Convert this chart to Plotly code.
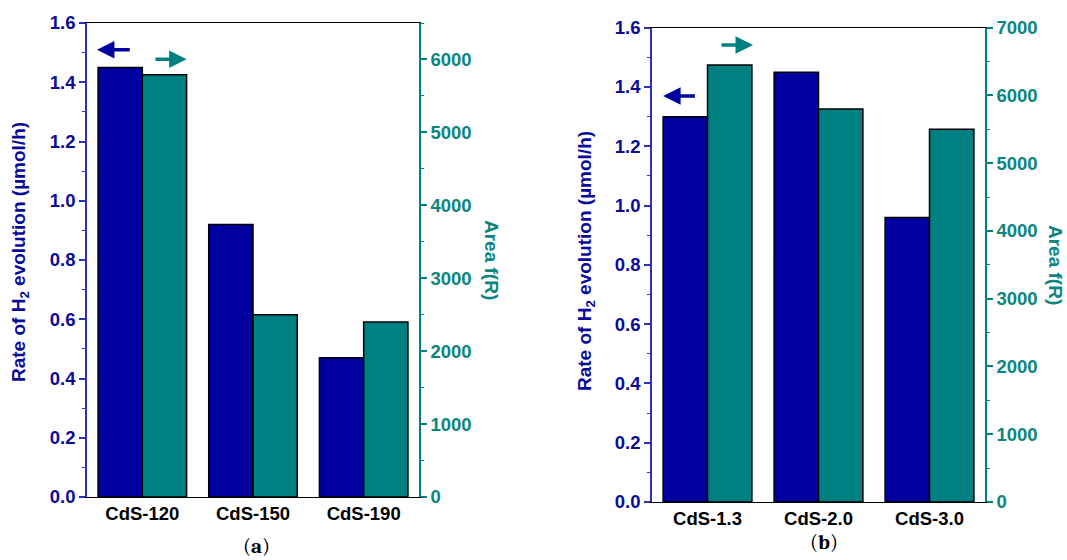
import plotly.graph_objects as go

# ---- data ----
cats_a = ["CdS-120", "CdS-150", "CdS-190"]
rate_a = [1.45, 0.92, 0.47]
area_a = [5790, 2500, 2400]

cats_b = ["CdS-1.3", "CdS-2.0", "CdS-3.0"]
rate_b = [1.30, 1.45, 0.96]
area_b = [6450, 5800, 5500]

BLUE = "#0000A0"
TEAL = "#008080"
BLUE_TXT = "#0a0a9a"
TEAL_TXT = "#0b8580"
BLUE_AX = "#3030b8"
W, H = 1067, 560

fig = go.Figure()

def px2x(p):
    return p / W

def px2y(p):
    return 1 - p / H

# domains (pixels)
xa = (87, 419)
xb = (652, 985)
ya = (23, 497)
yb = (27.7, 502)

FONT = "Arial, Liberation Sans, sans-serif"
FS = 18.5

bar_line = dict(color="black", width=1.5)
fig.add_trace(go.Bar(x=cats_a, y=rate_a, xaxis="x", yaxis="y", marker=dict(color=BLUE, line=bar_line),
                     width=0.4, offset=-0.4, showlegend=False))
fig.add_trace(go.Bar(x=cats_a, y=area_a, xaxis="x", yaxis="y2", marker=dict(color=TEAL, line=bar_line),
                     width=0.4, offset=0.0, showlegend=False))
fig.add_trace(go.Bar(x=cats_b, y=rate_b, xaxis="x2", yaxis="y3", marker=dict(color=BLUE, line=bar_line),
                     width=0.4, offset=-0.4, showlegend=False))
fig.add_trace(go.Bar(x=cats_b, y=area_b, xaxis="x2", yaxis="y4", marker=dict(color=TEAL, line=bar_line),
                     width=0.4, offset=0.0, showlegend=False))

tick_font_b = dict(family=FONT, size=FS, color=BLUE_TXT)
tick_font_t = dict(family=FONT, size=FS, color=TEAL_TXT)
cat_font = dict(family=FONT, size=FS, color="black")

def xaxis_cfg(dom, anchor):
    return dict(domain=[px2x(dom[0]), px2x(dom[1])], anchor=anchor, range=[-0.5, 2.5],
                showline=True, linecolor="black", linewidth=1.2, mirror=True,
                ticks="", tickfont=cat_font, showgrid=False, zeroline=False, automargin=False,
                tickprefix="<b>", ticksuffix="</b>")

def yleft_cfg(dom, anchor, rng):
    return dict(domain=[px2y(dom[1]), px2y(dom[0])], anchor=anchor, range=rng,
                showline=True, linecolor=BLUE_AX, linewidth=1.5, ticks="outside",
                ticklen=6, tickwidth=1.5, tickcolor=BLUE_AX, dtick=0.2, tickformat=".1f",
                minor=dict(dtick=0.1, ticklen=3, tickwidth=1.2, tickcolor=BLUE_AX, ticks="outside"),
                tickfont=tick_font_b, showgrid=False, zeroline=False, automargin=False,
                tickprefix="<b>", ticksuffix="</b>")

def yright_cfg(dom, anchor, overlay, rng):
    return dict(domain=[px2y(dom[1]), px2y(dom[0])], anchor=anchor, overlaying=overlay, side="right",
                range=rng, showline=True, linecolor=TEAL, linewidth=1.5, ticks="outside",
                ticklen=6, tickwidth=1.5, tickcolor=TEAL, dtick=1000,
                minor=dict(dtick=500, ticklen=3, tickwidth=1.2, tickcolor=TEAL, ticks="outside"),
                tickfont=tick_font_t, showgrid=False, zeroline=False, automargin=False,
                tickprefix="<b>", ticksuffix="</b>")

fig.update_layout(
    width=W, height=H,
    margin=dict(l=0, r=0, t=0, b=0, autoexpand=False),
    paper_bgcolor="white", plot_bgcolor="white",
    xaxis=xaxis_cfg(xa, "y"),
    yaxis=yleft_cfg(ya, "x", [0, 1.6]),
    yaxis2=yright_cfg(ya, "x", "y", [0, 6500]),
    xaxis2=xaxis_cfg(xb, "y3"),
    yaxis3=yleft_cfg(yb, "x2", [0, 1.6]),
    yaxis4=yright_cfg(yb, "x2", "y3", [0, 7000]),
)

title_font_b = dict(family=FONT, size=19, color=BLUE_TXT)
title_font_t = dict(family=FONT, size=19, color=TEAL_TXT)
rate_title = "<b>Rate of H<sub>2</sub> evolution (µmol/h)</b>"
area_title = "<b>Area f(R)</b>"

ann = []
ann.append(dict(text=rate_title, x=px2x(20), y=px2y(252), xref="paper", yref="paper",
                textangle=-90, showarrow=False, font=title_font_b, xanchor="center", yanchor="middle"))
ann.append(dict(text=rate_title, x=px2x(586), y=px2y(261), xref="paper", yref="paper",
                textangle=-90, showarrow=False, font=title_font_b, xanchor="center", yanchor="middle"))
ann.append(dict(text=area_title, x=px2x(492), y=px2y(260), xref="paper", yref="paper",
                textangle=90, showarrow=False, font=title_font_t, xanchor="center", yanchor="middle"))
ann.append(dict(text=area_title, x=px2x(1056), y=px2y(265), xref="paper", yref="paper",
                textangle=90, showarrow=False, font=title_font_t, xanchor="center", yanchor="middle"))

serif = dict(family="Cambria, DejaVu Serif, Liberation Serif, serif", size=21, color="black")
ann.append(dict(text="(<b>a</b>)", x=px2x(256), y=px2y(546), xref="paper", yref="paper",
                showarrow=False, font=serif, xanchor="center", yanchor="middle"))
ann.append(dict(text="(<b>b</b>)", x=px2x(824), y=px2y(542), xref="paper", yref="paper",
                showarrow=False, font=serif, xanchor="center", yanchor="middle"))

# direction arrows (head at x,y; tail at ax,ay in axis coords)
arrows = [
    ("x", "y", -0.41, -0.10, 1.51, BLUE),
    ("x", "y", 0.40, 0.105, 1.478, TEAL),
    ("x2", "y3", -0.40, -0.10, 1.37, BLUE),
    ("x2", "y3", 0.41, 0.113, 1.542, TEAL),
]
for xr, yr, hx, tx, yy, col in arrows:
    ann.append(dict(x=hx, y=yy, ax=tx, ay=yy, xref=xr, yref=yr, axref=xr, ayref=yr,
                    showarrow=True, arrowhead=2, arrowsize=1.0, arrowwidth=3.5, arrowcolor=col,
                    text=""))

fig.update_layout(annotations=ann)
fig.write_html("out.html", config={"displayModeBar": False},
               post_script="document.body.style.margin='0';document.body.style.overflow='hidden';")
